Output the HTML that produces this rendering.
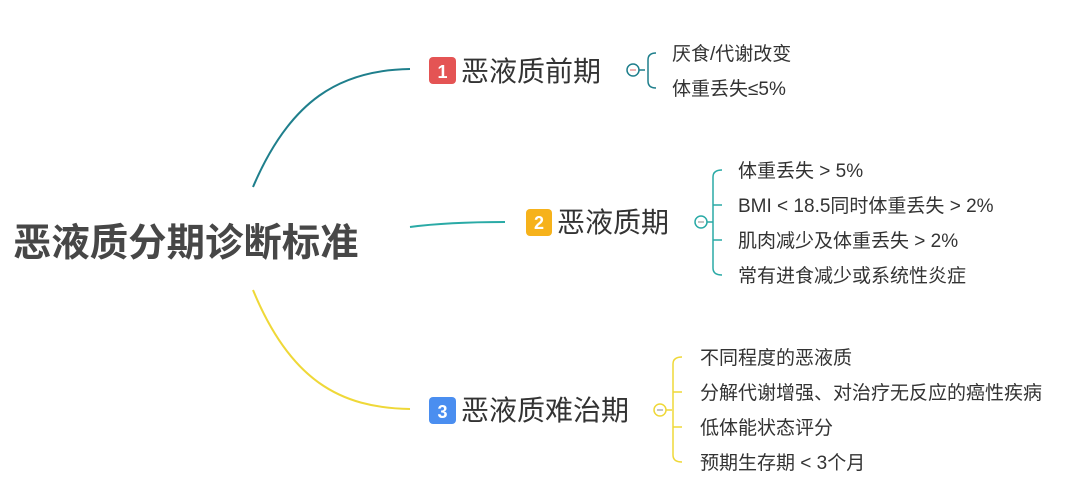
<!DOCTYPE html>
<html><head><meta charset="utf-8"><style>
html,body{margin:0;padding:0;background:#fff;}
svg{display:block;}
text{font-family:"Liberation Sans","Noto Sans CJK SC",sans-serif;fill:#333;}
</style></head><body>
<svg width="1080" height="495" viewBox="0 0 1080 495" xmlns="http://www.w3.org/2000/svg">
<text x="13" y="256" font-size="38.4" font-weight="bold" style="fill:#474747">恶液质分期诊断标准</text>

<path d="M253,187 C290,100 340,70 410,69" fill="none" stroke="#1f7f8c" stroke-width="2"/>
<path d="M410,227 C440,223 470,222 505,222" fill="none" stroke="#2aaaa6" stroke-width="2"/>
<path d="M253,290 C290,380 340,408 410,409" fill="none" stroke="#efd838" stroke-width="2"/>

<rect x="429" y="57" width="27" height="27" rx="4" fill="#e45454"/>
<text x="442.5" y="78" font-size="18" font-weight="bold" text-anchor="middle" style="fill:#fff">1</text>
<text x="461" y="81" font-size="28">恶液质前期</text>
<line x1="627" y1="70" x2="645" y2="70" stroke="#1f7f8c" stroke-width="1.5"/>
<circle cx="633" cy="70" r="6" fill="#fff" stroke="#1f7f8c" stroke-width="1.5"/>
<line x1="630" y1="70" x2="636" y2="70" stroke="#d66" stroke-width="1"/>
<path d="M656,53 Q648,53 648,60 L648,81 Q648,88 656,88" fill="none" stroke="#1f7f8c" stroke-width="1.5"/>
<text x="672" y="60" font-size="19">厌食/代谢改变</text>
<text x="672" y="95" font-size="19">体重丢失≤5%</text>

<rect x="526" y="209" width="26" height="27" rx="4" fill="#f6b21b"/>
<text x="539" y="229" font-size="18" font-weight="bold" text-anchor="middle" style="fill:#fff">2</text>
<text x="557" y="232" font-size="28">恶液质期</text>
<line x1="695" y1="222" x2="713" y2="222" stroke="#2aaaa6" stroke-width="1.5"/>
<circle cx="701" cy="222" r="6" fill="#fff" stroke="#2aaaa6" stroke-width="1.5"/>
<line x1="698" y1="222" x2="704" y2="222" stroke="#888" stroke-width="1"/>
<path d="M722,170 Q713,170 713,177 L713,268 Q713,275 722,275 M713,205 L722,205 M713,240 L722,240" fill="none" stroke="#2aaaa6" stroke-width="1.5"/>
<text x="738" y="177" font-size="19">体重丢失 &gt; 5%</text>
<text x="738" y="212" font-size="19">BMI &lt; 18.5同时体重丢失 &gt; 2%</text>
<text x="738" y="247" font-size="19">肌肉减少及体重丢失 &gt; 2%</text>
<text x="738" y="282" font-size="19">常有进食减少或系统性炎症</text>

<rect x="429" y="397" width="27" height="27" rx="4" fill="#4a8ef0"/>
<text x="442.5" y="418" font-size="18" font-weight="bold" text-anchor="middle" style="fill:#fff">3</text>
<text x="461" y="420" font-size="28">恶液质难治期</text>
<line x1="654" y1="410" x2="672" y2="410" stroke="#efd838" stroke-width="1.5"/>
<circle cx="660" cy="410" r="6" fill="#fff" stroke="#efd838" stroke-width="1.5"/>
<line x1="657" y1="410" x2="663" y2="410" stroke="#888" stroke-width="1"/>
<path d="M682,357 Q673,357 673,364 L673,455 Q673,462 682,462 M673,392 L682,392 M673,427 L682,427" fill="none" stroke="#efd838" stroke-width="1.5"/>
<text x="700" y="364" font-size="19">不同程度的恶液质</text>
<text x="700" y="399" font-size="19">分解代谢增强、对治疗无反应的癌性疾病</text>
<text x="700" y="434" font-size="19">低体能状态评分</text>
<text x="700" y="469" font-size="19">预期生存期 &lt; 3个月</text>
</svg>
</body></html>
